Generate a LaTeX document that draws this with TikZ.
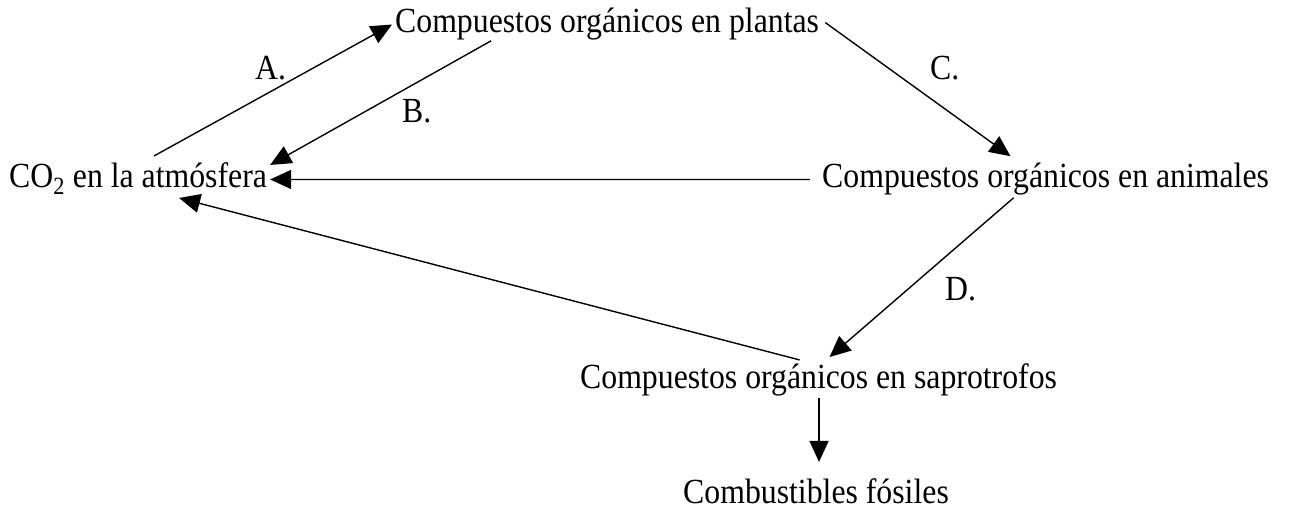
\documentclass[tikz,border=0pt]{standalone}
\usepackage{fontspec}
\setmainfont{Liberation Serif}[FakeStretch=0.9]
\usetikzlibrary{arrows.meta,calc}
\begin{document}
\begin{tikzpicture}[x=1pt,y=-1pt,
  lbl/.style={anchor=base west,inner sep=0pt,font=\fontsize{35.3}{42}\selectfont},
  con/.style={line width=1.4pt,-{Triangle[length=21pt,width=19pt]}}]
\useasboundingbox (0,0) rectangle (1290,511);
\node[lbl] (plantas) at (395,33) {Compuestos orgánicos en plantas};
\node[lbl] (co2) at (9,187) {CO\textsubscript{2} en la atmósfera};
\node[lbl] (anim) at (822,187) {Compuestos orgánicos en animales};
\node[lbl] (sapro) at (580,388) {Compuestos orgánicos en saprotrofos};
\node[lbl] (comb) at (683,503) {Combustibles fósiles};
\node[lbl] (la) at (255,79) {A.};
\node[lbl] (lb) at (402,122) {B.};
\node[lbl] (lc) at (930,80) {C.};
\node[lbl] (ld) at (945,300) {D.};
% A
\draw[con] ([shift={(16,-6)}]co2.north) -- ([xshift=-3]plantas.west);
% B
\draw[con] ([xshift=-116]plantas.south) -- ([shift={(3,3)}]co2.north east);
% C
\draw[con] ([shift={(6,-2)}]plantas.east) -- ([shift={(-35,-6)}]anim.north);
% horizontal
\draw[con] ([shift={(-12,1)}]anim.west) -- ([shift={(3,1)}]co2.east);
% saprotrofos -> CO2
\draw[con] ([shift={(-19,-3)}]sapro.north) -- ([shift={(41,3)}]co2.south);
% D
\draw[con] ([shift={(-32,3)}]anim.south) -- ([shift={(11,-6)}]sapro.north);
% down
\draw[con] ($(sapro.south -| comb.north)+(3,2)$) -- ([shift={(3,-16)}]comb.north);
\end{tikzpicture}
\end{document}
